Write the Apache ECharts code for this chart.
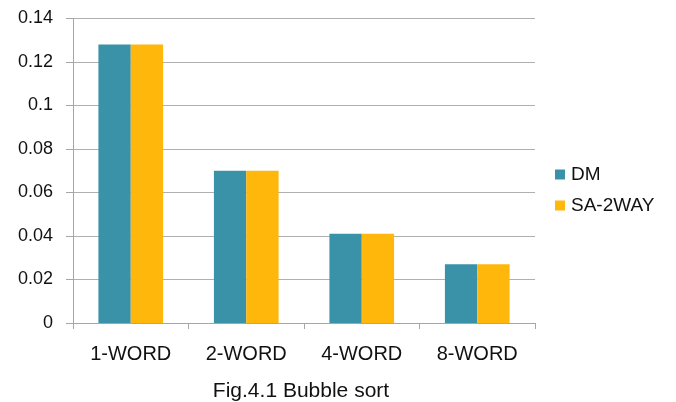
<!DOCTYPE html>
<html>
<head>
<meta charset="utf-8">
<script src="https://cdn.jsdelivr.net/npm/echarts@6/dist/echarts.min.js"></script>
<style>
  html, body { margin: 0; padding: 0; background: #fff; }
  #chart { width: 676px; height: 402px; }
</style>
</head>
<body>
<div id="chart"></div>
<script>
// Bubble sort timing by word width
const categories = ['1-WORD', '2-WORD', '4-WORD', '8-WORD'];
const dmValues = [0.128, 0.07, 0.041, 0.027];
const sa2wayValues = [0.128, 0.07, 0.041, 0.027];
const yTicks = { min: 0, max: 0.14, interval: 0.02 };

const font = 'Liberation Sans, Arial, sans-serif';
const chart = echarts.init(document.getElementById('chart'), null, { renderer: 'canvas' });

chart.setOption({
  animation: false,
  backgroundColor: '#ffffff',
  textStyle: { fontFamily: font },
  title: {
    text: 'Fig.4.1 Bubble sort',
    left: 301,
    textAlign: 'center',
    top: 381,
    padding: 0,
    textStyle: { fontFamily: font, fontSize: 21, fontWeight: 'normal', color: '#111' }
  },
  legend: {
    orient: 'vertical',
    left: 555,
    top: 165,
    padding: 0,
    itemWidth: 10,
    itemHeight: 10,
    itemGap: 12,
    icon: 'rect',
    textStyle: { fontFamily: font, fontSize: 19, color: '#111', padding: [0, 0, 0, 1] },
    data: ['DM', 'SA-2WAY']
  },
  grid: { left: 73, top: 18.5, right: 141, bottom: 79, containLabel: false },
  xAxis: {
    type: 'category',
    data: categories,
    boundaryGap: true,
    axisLine: { lineStyle: { color: '#a6a6a6', width: 1 } },
    axisTick: { show: true, length: 6, lineStyle: { color: '#a6a6a6' } },
    axisLabel: { fontFamily: font, fontSize: 20, color: '#111', margin: 21 }
  },
  yAxis: {
    type: 'value',
    min: yTicks.min,
    max: yTicks.max,
    interval: yTicks.interval,
    axisLine: { show: true, lineStyle: { color: '#a6a6a6', width: 1 } },
    axisTick: { show: true, length: 7, lineStyle: { color: '#a6a6a6' } },
    splitLine: { show: true, lineStyle: { color: '#b0b0b0', width: 1 } },
    axisLabel: {
      fontFamily: font, fontSize: 18, color: '#111', margin: 20,
      formatter: v => String(parseFloat(v.toFixed(2)))
    }
  },
  series: [
    {
      name: 'DM', type: 'bar', data: dmValues,
      barGap: '0%', barCategoryGap: '44%',
      itemStyle: { color: '#3a92a8' }
    },
    {
      name: 'SA-2WAY', type: 'bar', data: sa2wayValues,
      barGap: '0%', barCategoryGap: '44%',
      itemStyle: { color: '#ffb70c' }
    }
  ]
});
</script>
</body>
</html>
